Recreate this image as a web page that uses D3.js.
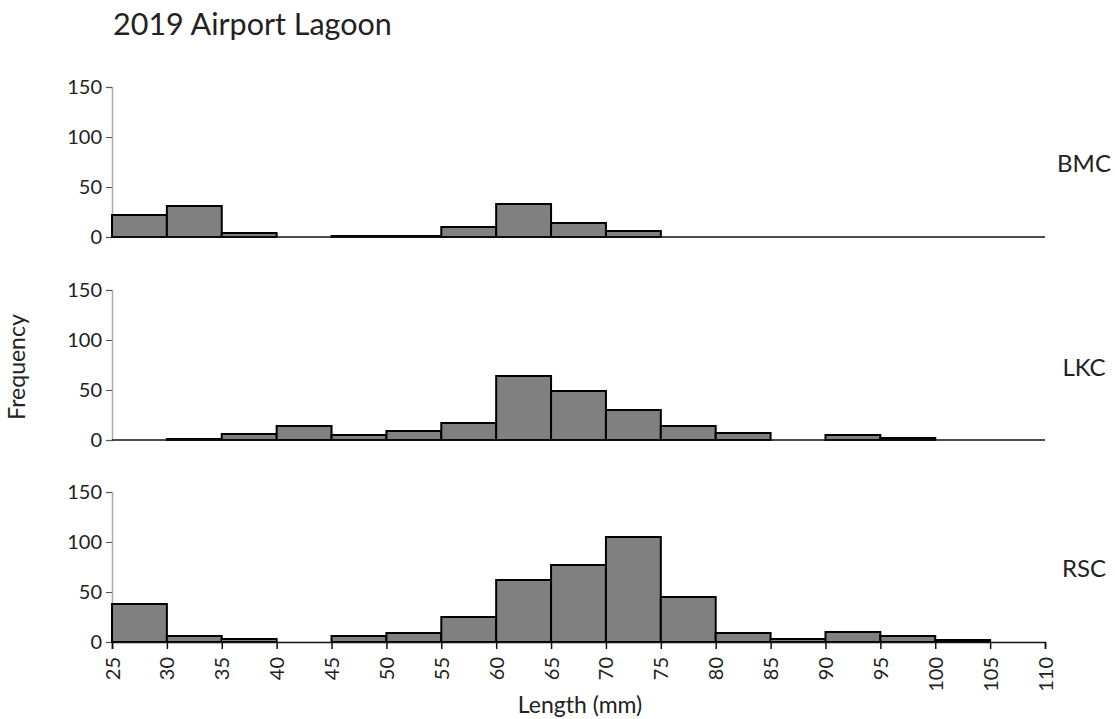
<!DOCTYPE html>
<html>
<head>
<meta charset="utf-8">
<script src="https://cdn.jsdelivr.net/npm/d3@7"></script>
<style>
  body { margin: 0; background: #fff; }
  text { font-family: Lato, "Open Sans", sans-serif; fill: #222; }
</style>
</head>
<body>
<script>
// bin edges (mm) and counts per site
var binStarts = [25, 30, 35, 40, 45, 50, 55, 60, 65, 70, 75, 80, 85, 90, 95, 100, 105];
var sites = ['BMC', 'LKC', 'RSC'];
var bmcCounts = [22, 31, 4, 0, 1, 1, 10, 33, 14, 6, 0, 0, 0, 0, 0, 0, 0];
var lkcCounts = [0, 1, 6, 14, 5, 9, 17, 64, 49, 30, 14, 7, 0, 5, 2, 0, 0];
var rscCounts = [38, 6, 3, 0, 6, 9, 25, 62, 77, 105, 45, 9, 3, 10, 6, 2, 0];
var yTicks = [0, 50, 100, 150];
var xTicks = [25, 30, 35, 40, 45, 50, 55, 60, 65, 70, 75, 80, 85, 90, 95, 100, 105, 110];

var width = 1115, height = 719;
var panelTops = [87, 290, 492];
var panelHeight = 150;
var labelY = [172, 376, 577];

var svg = d3.select('body').append('svg')
    .attr('width', width)
    .attr('height', height);

var x = d3.scaleLinear().domain([25, 110]).range([112, 1045]);

svg.append('text')
    .attr('x', 113)
    .attr('y', 35)
    .attr('font-size', 30.5)
    .text('2019 Airport Lagoon');

var allCounts = [bmcCounts, lkcCounts, rscCounts];

sites.forEach(function(site, i) {
    var top = panelTops[i];
    var y = d3.scaleLinear().domain([0, 150]).range([top + panelHeight, top]);
    var g = svg.append('g');
    var bins = binStarts.map(function(s, j) { return {x0: s, x1: s + 5, n: allCounts[i][j]}; });

    // y axis
    var yAxis = g.append('g')
        .attr('transform', 'translate(112,0)')
        .call(d3.axisLeft(y).tickValues(yTicks).tickSize(6).tickPadding(4));
    yAxis.select('.domain').attr('stroke', '#aaa').attr('stroke-width', 1.5);
    yAxis.selectAll('.tick line').attr('stroke', '#555');
    yAxis.selectAll('text').attr('font-size', 20).attr('font-family', 'Lato, sans-serif').attr('fill', '#222');

    // bars
    g.selectAll('.bar')
        .data(bins.filter(function(d) { return d.n > 0; }))
        .enter()
            .append('rect')
            .attr('class', 'bar')
            .attr('x', function(d) { return x(d.x0); })
            .attr('width', function(d) { return x(d.x1) - x(d.x0); })
            .attr('y', function(d) { return y(d.n); })
            .attr('height', function(d) { return y(0) - y(d.n); })
            .attr('fill', '#808080')
            .attr('stroke', '#000')
            .attr('stroke-width', 2);

    // baseline / x axis
    if (i < 2) {
        g.append('line')
            .attr('x1', x(25)).attr('x2', x(110))
            .attr('y1', y(0)).attr('y2', y(0))
            .attr('stroke', '#111')
            .attr('stroke-width', 1.5);
    } else {
        var xAxis = g.append('g')
            .attr('transform', 'translate(0,' + y(0) + ')')
            .call(d3.axisBottom(x).tickValues(xTicks).tickSize(7).tickPadding(4));
        xAxis.select('.domain').attr('stroke', '#111').attr('stroke-width', 1.5);
        xAxis.selectAll('.tick line').attr('stroke', '#111').attr('stroke-width', 1.5);
        xAxis.selectAll('text')
            .attr('font-size', 20)
            .attr('font-family', 'Lato, sans-serif')
            .attr('fill', '#222')
            .attr('transform', 'rotate(-90)')
            .attr('x', -15)
            .attr('y', 0)
            .attr('dy', '0.35em')
            .style('text-anchor', 'end');
    }

    svg.append('text')
        .attr('x', 1084)
        .attr('y', labelY[i])
        .attr('font-size', 24)
        .style('text-anchor', 'middle')
        .text(site);
});

svg.append('text')
    .attr('x', 580)
    .attr('y', 713)
    .attr('font-size', 23)
    .style('text-anchor', 'middle')
    .text('Length (mm)');

svg.append('text')
    .attr('transform', 'translate(25,367) rotate(-90)')
    .attr('font-size', 23)
    .style('text-anchor', 'middle')
    .text('Frequency');
</script>
</body>
</html>
